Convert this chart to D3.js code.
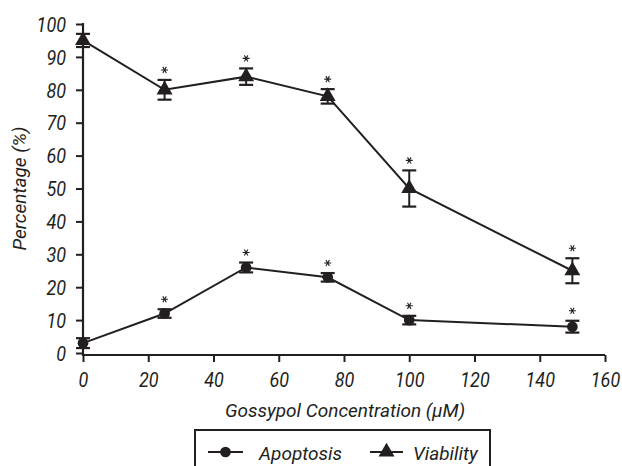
<!DOCTYPE html>
<html>
<head>
<meta charset="utf-8">
<script src="https://cdn.jsdelivr.net/npm/d3@7"></script>
<style>
  body { margin: 0; background: #fff; }
  svg text { font-family: Roboto, "Liberation Sans", sans-serif; font-style: italic; fill: #231f20; }
  .tick text { transform-box: fill-box; }
  .xax .tick text { transform: scaleX(0.9); transform-origin: center; }
  .yax .tick text { transform: scaleX(0.9); transform-origin: right; }
</style>
</head>
<body>
<svg id="chart" width="622" height="466"></svg>
<script>
const conc = [0, 25, 50, 75, 100, 150]
const apoptosis = [3, 12, 26, 23, 10, 8]
const apoptosisErr = [1.5, 1.3, 1.5, 1.3, 1.3, 1.8]
const viability = [95, 80, 84, 78, 50, 25]
const viabilityErr = [2, 3, 2.5, 2.2, 5.5, 3.8]
// which points carry a significance star
const starred = [false, true, true, true, true, true]
const xTicks = [0, 20, 40, 60, 80, 100, 120, 140, 160]
const yTicks = [0, 10, 20, 30, 40, 50, 60, 70, 80, 90, 100]

const ink = '#231f20'
const fs = '19px'
const svg = d3.select('#chart')

const x = d3.scaleLinear().domain([0, 160]).range([83, 605])
const y = d3.scaleLinear().domain([0, 100]).range([353, 24])

// axes
const xAxis = svg.append('g').attr('class', 'xax')
  .attr('transform', `translate(0,${y(0) + 2})`)
  .call(d3.axisBottom(x).tickValues(xTicks).tickSize(7).tickPadding(11).tickSizeOuter(0))
const yAxis = svg.append('g').attr('class', 'yax')
  .attr('transform', `translate(${x(0)},0)`)
  .call(d3.axisLeft(y).tickValues(yTicks).tickSize(7).tickPadding(10).tickSizeOuter(0))

;[xAxis, yAxis].forEach(a => {
  a.select('.domain').attr('stroke', ink).attr('stroke-width', 2.2)
  a.selectAll('.tick line').attr('stroke', ink).attr('stroke-width', 2)
  a.selectAll('.tick text').style('font-size', '20px').attr('fill', ink)
})
xAxis.select('.domain').attr('d', `M${x(0)},0H${x(160)}`)
yAxis.select('.domain').attr('d', `M0,${y(0) + 3}V${y(100) - 1}`)
yAxis.selectAll('.tick text').attr('dy', '0.36em')

// axis titles
svg.append('text')
  .attr('x', 345).attr('y', 417)
  .attr('text-anchor', 'middle')
  .style('font-size', fs)
  .text('Gossypol Concentration (\u03bcM)')
svg.append('text')
  .attr('transform', `translate(26,${(y(0) + y(100)) / 2}) rotate(-90)`)
  .attr('text-anchor', 'middle')
  .style('font-size', fs)
  .text('Percentage (%)')

const series = [
  { name: 'Apoptosis', values: apoptosis, err: apoptosisErr, shape: d3.symbolCircle, size: 90 },
  { name: 'Viability', values: viability, err: viabilityErr, shape: d3.symbolTriangle, size: 110 }
]

const line = d3.line().x(d => x(d[0])).y(d => y(d[1]))
const star = d3.symbol().type(d3.symbolAsterisk).size(34)

series.forEach(s => {
  const pts = conc.map((c, i) => [c, s.values[i], s.err[i], starred[i]])
  const g = svg.append('g')

  g.append('path')
    .attr('d', line(pts))
    .attr('fill', 'none')
    .attr('stroke', ink)
    .attr('stroke-width', 2)

  // error bars
  const eb = g.selectAll('.eb').data(pts).join('g')
  eb.append('line')
    .attr('x1', d => x(d[0])).attr('x2', d => x(d[0]))
    .attr('y1', d => y(d[1] + d[2])).attr('y2', d => y(d[1] - d[2]))
    .attr('stroke', ink).attr('stroke-width', 2)
  eb.selectAll('.cap').data(d => [[d[0], d[1] + d[2]], [d[0], d[1] - d[2]]]).join('line')
    .attr('x1', d => x(d[0]) - 7).attr('x2', d => x(d[0]) + 7)
    .attr('y1', d => y(d[1])).attr('y2', d => y(d[1]))
    .attr('stroke', ink).attr('stroke-width', 2.2)

  g.selectAll('.m').data(pts).join('path')
    .attr('transform', d => `translate(${x(d[0])},${y(d[1])})`)
    .attr('d', d3.symbol().type(s.shape).size(s.size))
    .attr('fill', ink)

  g.selectAll('.star').data(pts.filter(d => d[3])).join('path')
    .attr('transform', d => `translate(${x(d[0])},${y(d[1] + d[2]) - 10}) rotate(90)`)
    .attr('d', star)
    .attr('fill', 'none')
    .attr('stroke', ink)
    .attr('stroke-width', 1.1)
})

// legend
const lg = svg.append('g')
lg.append('rect')
  .attr('x', 195).attr('y', 430).attr('width', 295).attr('height', 50)
  .attr('fill', 'none').attr('stroke', ink).attr('stroke-width', 2)
const items = [
  { s: series[0], x0: 208, x1: 243, tx: 259 },
  { s: series[1], x0: 370, x1: 403, tx: 413 }
]
items.forEach(it => {
  lg.append('line')
    .attr('x1', it.x0).attr('x2', it.x1).attr('y1', 452).attr('y2', 452)
    .attr('stroke', ink).attr('stroke-width', 2)
  lg.append('path')
    .attr('transform', `translate(${(it.x0 + it.x1) / 2},452)`)
    .attr('d', d3.symbol().type(it.s.shape).size(it.s.size))
    .attr('fill', ink)
  lg.append('text')
    .attr('x', it.tx).attr('y', 460)
    .style('font-size', fs)
    .text(it.s.name)
})
</script>
</body>
</html>
